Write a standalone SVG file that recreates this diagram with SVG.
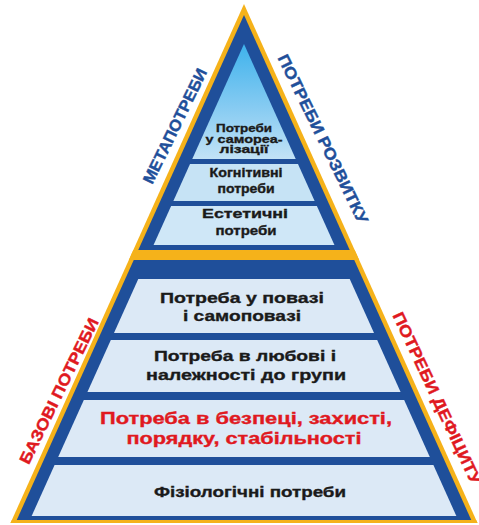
<svg xmlns="http://www.w3.org/2000/svg" width="479" height="525" viewBox="0 0 479 525">
  <defs>
    <clipPath id="outerClip"><polygon points="244,4 10.5,523 477.5,523"/></clipPath>
    <clipPath id="innerClip"><polygon points="244,44 28.5,523 459.5,523"/></clipPath>
    <linearGradient id="topGrad" x1="0" y1="44" x2="0" y2="159" gradientUnits="userSpaceOnUse">
      <stop offset="0" stop-color="#3eb2ec"/>
      <stop offset="0.55" stop-color="#86cbf2"/>
      <stop offset="1" stop-color="#c2e2f6"/>
    </linearGradient>
    <style>
      .yel { fill: #f5b21a; }
      .blu { fill: #1f4f9a; }
      .lo { fill: #dce9f6; }
      .t { font-family: "Liberation Sans", Arial, sans-serif; font-weight: bold; fill: #1a1a1a; stroke: #1a1a1a; stroke-width: 0.35px; text-anchor: middle; }
      .red { fill: #e0191f; stroke: #e0191f; }
      .side { font-family: "Liberation Sans", Arial, sans-serif; font-weight: bold; font-size: 16px; stroke-width: 0.4px; text-anchor: middle; dominant-baseline: central; }
      .sb { fill: #1f4f9a; stroke: #1f4f9a; }
      .sr { fill: #e0191f; stroke: #e0191f; }
    </style>
  </defs>

  <g id="frame">
    <polygon class="yel" points="244,4 10.5,523 477.5,523"/>
    <polygon class="blu" points="244,15 15.4,523 472.6,523"/>
  </g>

  <g id="panels" clip-path="url(#innerClip)">
    <rect id="p-self" x="0" y="40" width="479" height="119" fill="url(#topGrad)"/>
    <rect id="p-cog" x="0" y="164" width="479" height="37" fill="#c6e3f5"/>
    <rect id="p-aes" x="0" y="206" width="479" height="39" fill="#cfe7f7"/>
    <rect id="p-est" class="lo" x="0" y="279" width="479" height="54"/>
    <rect id="p-love" class="lo" x="0" y="340" width="479" height="52"/>
    <rect id="p-safe" class="lo" x="0" y="400" width="479" height="57"/>
    <rect id="p-phys" class="lo" x="0" y="465" width="479" height="51"/>
  </g>

  <g id="bands" clip-path="url(#outerClip)">
    <rect class="yel" x="0" y="250" width="479" height="10"/>
    <rect class="yel" x="0" y="520" width="479" height="5"/>
  </g>

  <g id="node-self">
    <text class="t" x="244" y="132" font-size="11" textLength="56" lengthAdjust="spacingAndGlyphs">Потреби</text>
    <text class="t" x="244" y="142.5" font-size="11" textLength="77" lengthAdjust="spacingAndGlyphs">у самореа-</text>
    <text class="t" x="244" y="153" font-size="11" textLength="49" lengthAdjust="spacingAndGlyphs">лізації</text>
  </g>
  <g id="node-cog">
    <text class="t" x="246" y="177" font-size="12" textLength="73" lengthAdjust="spacingAndGlyphs">Когнітивні</text>
    <text class="t" x="246" y="193" font-size="12" textLength="57" lengthAdjust="spacingAndGlyphs">потреби</text>
  </g>
  <g id="node-aes">
    <text class="t" x="245" y="218" font-size="13" textLength="86" lengthAdjust="spacingAndGlyphs">Естетичні</text>
    <text class="t" x="246" y="235" font-size="13" textLength="61" lengthAdjust="spacingAndGlyphs">потреби</text>
  </g>
  <g id="node-esteem">
    <text class="t" x="242" y="303" font-size="15" textLength="164" lengthAdjust="spacingAndGlyphs">Потреба у повазі</text>
    <text class="t" x="242" y="321" font-size="15" textLength="118" lengthAdjust="spacingAndGlyphs">і самоповазі</text>
  </g>
  <g id="node-love">
    <text class="t" x="245" y="361" font-size="15" textLength="182" lengthAdjust="spacingAndGlyphs">Потреба в любові і</text>
    <text class="t" x="246" y="380" font-size="15" textLength="200" lengthAdjust="spacingAndGlyphs">належності до групи</text>
  </g>
  <g id="node-safety">
    <text class="t red" x="246" y="424" font-size="16" textLength="292" lengthAdjust="spacingAndGlyphs">Потреба в безпеці, захисті,</text>
    <text class="t red" x="244" y="444" font-size="16" textLength="235" lengthAdjust="spacingAndGlyphs">порядку, стабільності</text>
  </g>
  <g id="node-phys">
    <text class="t" x="250" y="497" font-size="15" textLength="192" lengthAdjust="spacingAndGlyphs">Фізіологічні потреби</text>
  </g>

  <g id="side-labels">
    <text class="side sb" transform="translate(175,126) rotate(-64)" textLength="126" lengthAdjust="spacingAndGlyphs">МЕТАПОТРЕБИ</text>
    <text class="side sb" transform="translate(323,139) rotate(64)" textLength="186" lengthAdjust="spacingAndGlyphs">ПОТРЕБИ РОЗВИТКУ</text>
    <text class="side sr" transform="translate(59,391) rotate(-64)" textLength="160" lengthAdjust="spacingAndGlyphs">БАЗОВІ ПОТРЕБИ</text>
    <text class="side sr" transform="translate(437,398) rotate(65)" textLength="188" lengthAdjust="spacingAndGlyphs">ПОТРЕБИ ДЕФІЦИТУ</text>
  </g>
</svg>
